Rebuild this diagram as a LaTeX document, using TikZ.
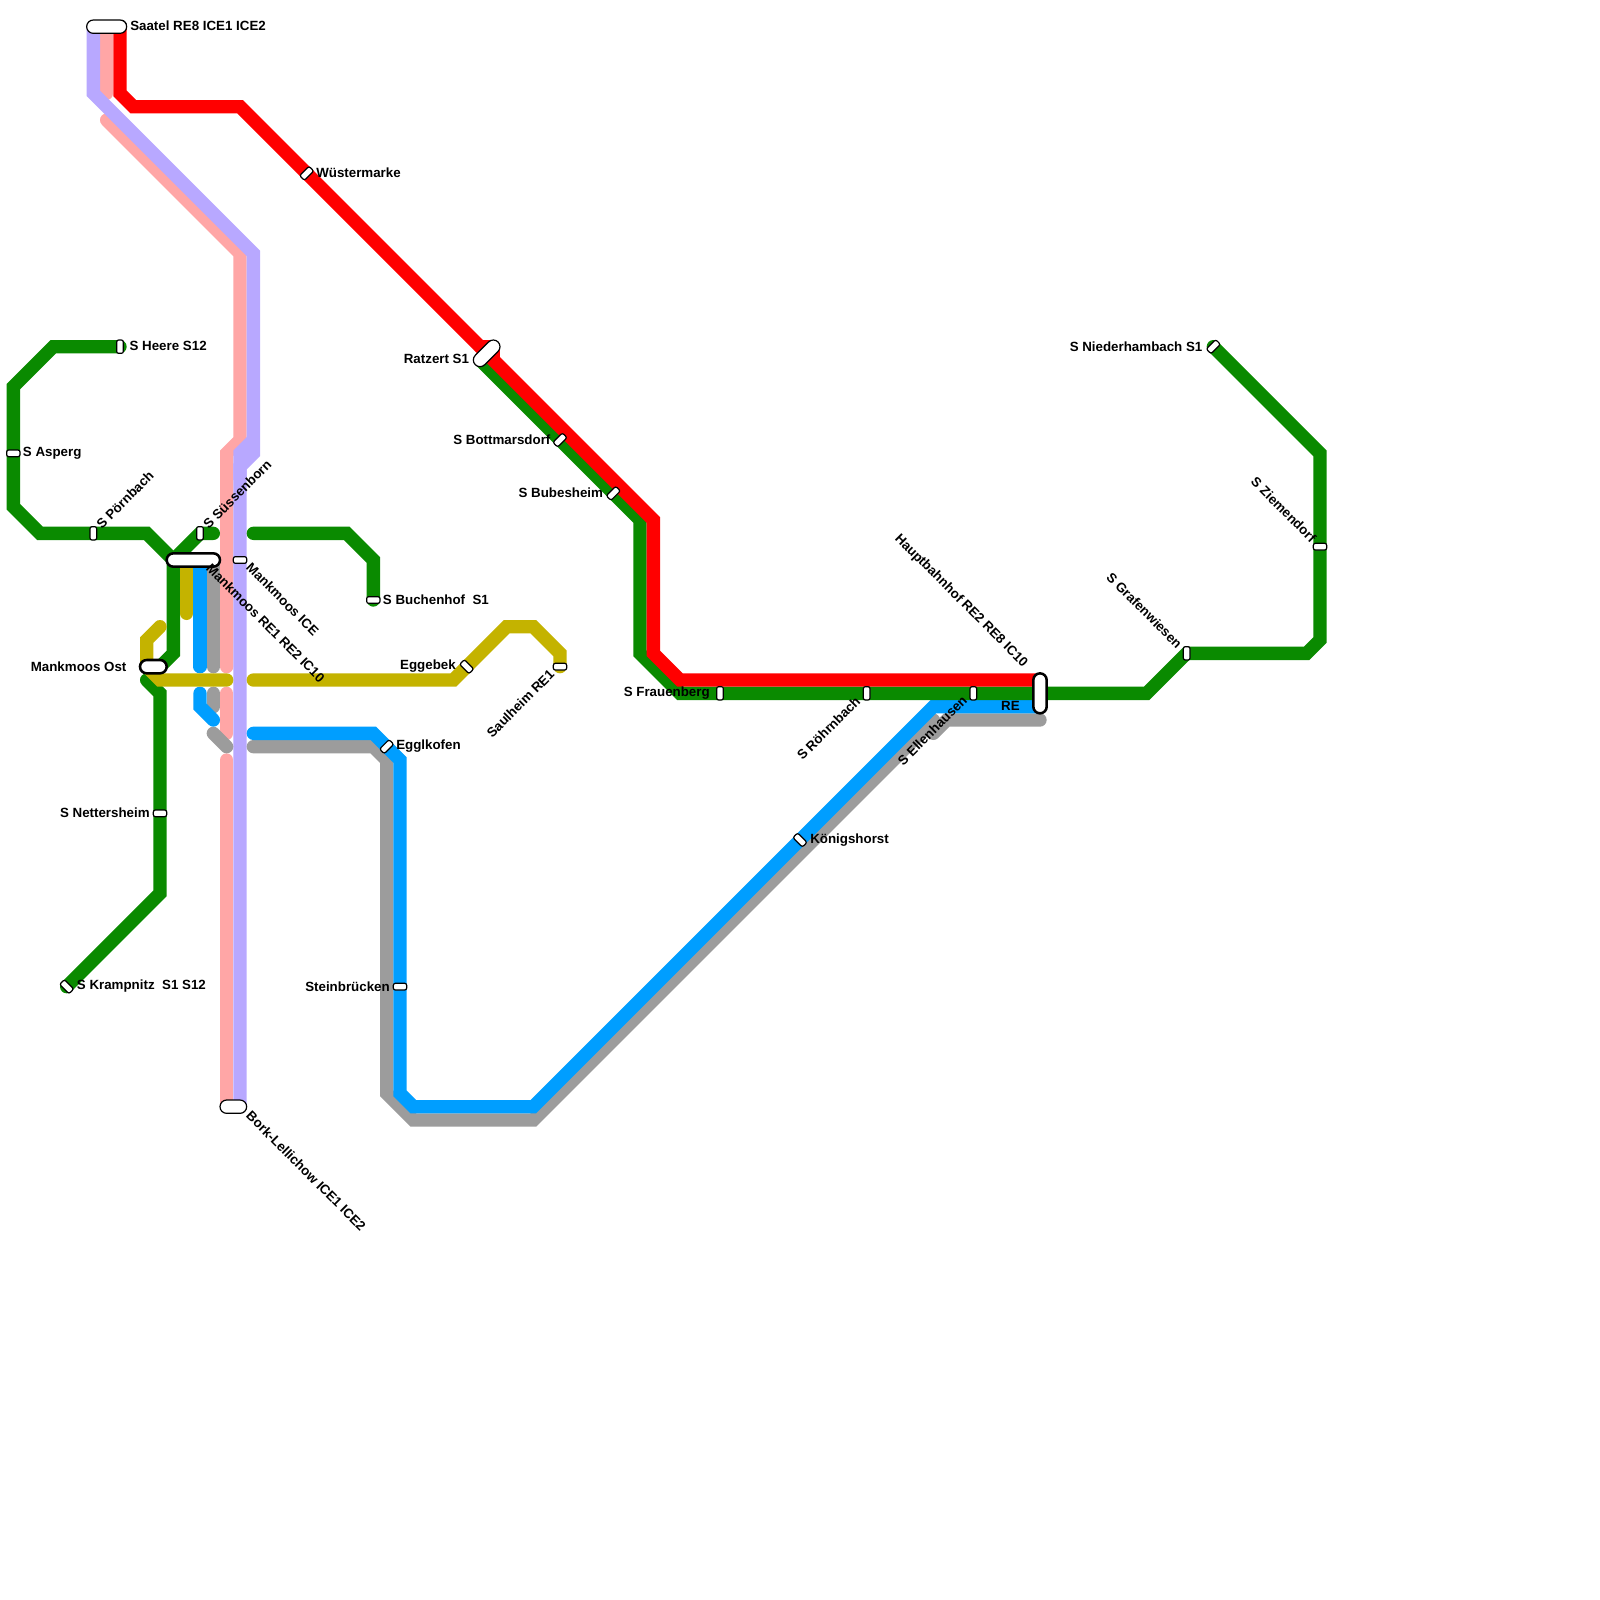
\documentclass[tikz,border=0pt]{standalone}
\usepackage{fontspec}
\setmainfont{Liberation Sans}
\definecolor{lgreen}{HTML}{0A8A00}
\definecolor{lred}{HTML}{FF0000}
\definecolor{lpurple}{HTML}{B8A8FF}
\definecolor{lpink}{HTML}{FFA6A6}
\definecolor{lblue}{HTML}{009EFF}
\definecolor{lgrey}{HTML}{9C9C9C}
\definecolor{lolive}{HTML}{C4B300}
\tikzset{
  mline/.style={line width=10pt,line cap=round,line join=miter,miter limit=10},
  stn/.style={draw=black,fill=white,line width=0.9pt,rounded corners=1.5pt,inner sep=0pt,minimum width=10pt,minimum height=5pt},
  stnv/.style={stn,rotate=90},
  stnr/.style={stn,rotate=45},
  stnl/.style={stn,rotate=-45},
  pill/.style={draw=black,fill=white,line width=0.9pt,rounded corners=5pt,inner sep=0pt,minimum height=10pt},
  pillb/.style={pill,line width=1.9pt},
  lbl/.style={inner sep=0pt,font=\bfseries\fontsize{10pt}{12pt}\selectfont,text=black},
  lw/.style={lbl,anchor=west},
  le/.style={lbl,anchor=east}
}
\begin{document}
\begin{tikzpicture}[x=10pt,y=-10pt]
\useasboundingbox[fill=white] (0,0) rectangle (120,120);
% station positions
\coordinate (pSaatelP) at (7,2);
\coordinate (pSaatelQ) at (8,2);
\coordinate (pSaatelR) at (9,2);
\coordinate (pHeere) at (9,26);
\coordinate (pSuess) at (16,40);
\coordinate (pBuch) at (28,45);
\coordinate (pKramp) at (5,74);
\coordinate (pSaul) at (42,50);
\coordinate (pNied) at (91,26);
\coordinate (pBork) at (17,83);
\coordinate (pBorkB) at (18,83);
\coordinate (pHbfR) at (78,51);
\coordinate (pHbfB) at (78,53);
\coordinate (pMoosG) at (13,42);
\coordinate (pMoosO) at (14,42);
\coordinate (pMoosB) at (15,42);
\coordinate (pMoosY) at (16,42);
\coordinate (pOst) at (12,50);
\coordinate (pOstY) at (11,50);
\coordinate (pRatz) at (36,27);
% pink
\draw[mline,lpink] (pSaatelQ) -- (8,7);
\draw[mline,lpink] (8,9) -- (18,19) -- (18,33) -- (17,34) -- (17,50);
\draw[mline,lpink] (17,52) -- (17,55);
\draw[mline,lpink] (17,57) -- (pBork);
% purple
\draw[mline,lpurple] (pSaatelP) -- (7,7) -- (19,19) -- (19,34) -- (18,35) -- (pBorkB);
\draw[mline,lpurple,line cap=butt] (19,33) -- (18,34) -- (18,36);
% grey
\draw[mline,lgrey] (pMoosY) -- (16,50);
\draw[mline,lgrey] (16,52) -- (16,53);
\draw[mline,lgrey] (16,55) -- (17,56);
\draw[mline,lgrey] (19,56) -- (28,56) -- (29,57) -- (29,82) -- (31,84) -- (40,84) -- (70,54);
\draw[mline,lgrey] (70,55) -- (71,54) -- (78,54);
% blue
\draw[mline,lblue] (pMoosB) -- (15,50);
\draw[mline,lblue] (15,52) -- (15,53) -- (16,54);
\draw[mline,lblue] (19,55) -- (28,55) -- (30,57) -- (30,82) -- (31,83) -- (40,83) -- (70,53) -- (pHbfB);
% green
\draw[mline,lgreen] (pHeere) -- (4,26) -- (1,29) -- (1,38) -- (3,40) -- (11,40) -- (pMoosG) -- (13,49) -- (pOst);
\draw[mline,lgreen] (pMoosG) -- (15,40) -- (pSuess);
\draw[mline,lgreen] (11,51) -- (12,52) -- (12,67) -- (pKramp);
\draw[mline,lgreen] (19,40) -- (26,40) -- (28,42) -- (pBuch);
\draw[mline,lgreen] (pRatz) -- (48,39) -- (48,49) -- (51,52) -- (86,52) -- (89,49) -- (98,49) -- (99,48) -- (99,34) -- (pNied);
% olive
\draw[mline,lolive] (pMoosO) -- (14,46);
\draw[mline,lolive] (12,47) -- (11,48) -- (pOstY) -- (12,51) -- (17,51);
\draw[mline,lolive] (19,51) -- (34,51) -- (38,47) -- (40,47) -- (42,49) -- (pSaul);
% red
\draw[mline,lred] (pSaatelR) -- (9,7) -- (10,8) -- (18,8) -- (49,39) -- (49,49) -- (51,51) -- (pHbfR);
\draw[mline,lred,line join=round] (36,26) -- (37,26) -- (37,27);
% small stations
\node[stnr] (sSaatelB) at (pSaatelR) {};
\node[stnv] (sHeere) at (pHeere) {};
\node[stn] (sAsperg) at (1,34) {};
\node[stnv] (sPoern) at (7,40) {};
\node[stnv] (sSuess) at (15,40) {};
\node[stnr] (sWuest) at (23,13) {};
\node[stn] (sMoosICE) at (18,42) {};
\node[stn] (sBuch) at (pBuch) {};
\node[stnl] (sEgge) at (35,50) {};
\node[stn] (sSaul) at (pSaul) {};
\node[stnr] (sEggl) at (29,56) {};
\node[stn] (sNett) at (12,61) {};
\node[stn] (sStein) at (30,74) {};
\node[stnl] (sKramp) at (pKramp) {};
\node[stnl] (sKoen) at (60,63) {};
\node[stnr] (sBott) at (42,33) {};
\node[stnr] (sBube) at (46,37) {};
\node[stnv] (sFrau) at (54,52) {};
\node[stnv] (sRoehr) at (65,52) {};
\node[stnv] (sEllen) at (73,52) {};
\node[stnv] (sGraf) at (89,49) {};
\node[stn] (sZiem) at (99,41) {};
\node[stnr] (sNied) at (pNied) {};
% large stations
\node[pill,minimum width=30pt] (sSaatel) at (pSaatelQ) {};
\node[pillb,minimum width=40pt] (sMoos) at (14.5,42) {};
\node[pillb,minimum width=20pt] (sOst) at (11.5,50) {};
\node[pill,minimum width=20pt] (sBork) at (17.5,83) {};
\node[pill,minimum width=24.14pt,rotate=45] (sRatz) at (36.5,26.5) {};
\node[pillb,minimum width=30pt,rotate=90] (sHbf) at (78,52) {};
% labels
\node[lw] (tSaatel) at (9.75,1.95) {Saatel RE8 ICE1 ICE2};
\node[lw] (tWuest) at (23.7,12.95) {Wüstermarke};
\node[lw] (tHeere) at (9.7,25.97) {S Heere S12};
\node[lw] (tAsperg) at (1.7,33.97) {S Asperg};
\node[lw] (tKramp) at (5.75,73.97) {S Krampnitz\ \ S1 S12};
\node[lw] (tBuch) at (28.7,44.97) {S Buchenhof\ \ S1};
\node[lw] (tEggl) at (29.7,55.97) {Egglkofen};
\node[lw] (tKoen) at (60.75,62.97) {Königshorst};
\node[le] (tOst) at (9.5,49.97) {Mankmoos Ost};
\node[le] (tNett) at (11.25,60.97) {S Nettersheim};
\node[le] (tStein) at (29.25,73.97) {Steinbrücken};
\node[le] (tRatz) at (35.2,26.92) {Ratzert S1};
\node[le] (tBott) at (41.3,32.97) {S Bottmarsdorf};
\node[le] (tBube) at (45.25,36.97) {S Bubesheim};
\node[le] (tEgge) at (34.2,49.97) {Eggebek};
\node[le] (tFrau) at (53.25,51.97) {S Frauenberg};
\node[le] (tNied) at (90.2,25.97) {S Niederhambach S1};
\node[le] (tRE) at (76.5,52.97) {RE};
\node[lw,rotate=45] (tPoern) at (7.4,39.45) {S Pörnbach};
\node[lw,rotate=45] (tSuess) at (15.4,39.45) {S Süssenborn};
\node[lw,rotate=-45] (tMoosICE) at (18.65,42.4) {Mankmoos ICE};
\node[lw,rotate=-45] (tMoos) at (15.65,42.45) {Mankmoos RE1 RE2 IC10};
\node[lw,rotate=-45] (tBork) at (18.65,83.5) {Bork-Lellichow ICE1 ICE2};
\node[le,rotate=-45] (tHbf) at (76.9,49.9) {Hauptbahnhof RE2 RE8 IC10};
\node[le,rotate=-45] (tGraf) at (88.5,48.45) {S Grafenwiesen};
\node[le,rotate=-45] (tZiem) at (98.55,40.5) {S Ziemendorf};
\node[le,rotate=45] (tSaul) at (41.4,50.4) {Saulheim RE1};
\node[le,rotate=45] (tRoehr) at (64.35,52.4) {S Röhrnbach};
\node[le,rotate=45] (tEllen) at (72.35,52.35) {S Ellenhausen};
\end{tikzpicture}
\end{document}
